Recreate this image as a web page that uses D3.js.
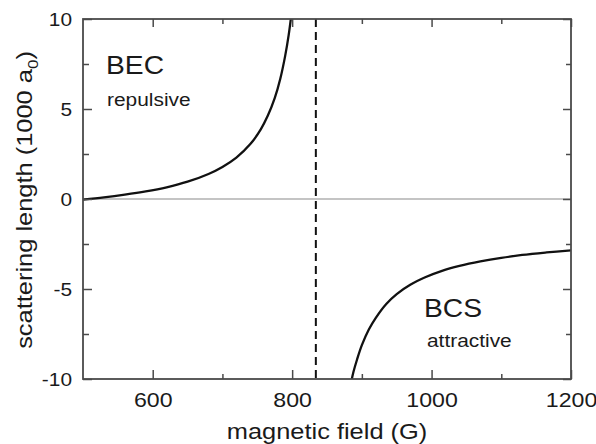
<!DOCTYPE html>
<html>
<head>
<meta charset="utf-8">
<script src="https://cdn.jsdelivr.net/npm/d3@7/dist/d3.min.js"></script>
<style>
  html, body { margin: 0; padding: 0; background: #fff; }
  svg { display: block; }
  text { font-family: "Liberation Sans", Arial, Helvetica, sans-serif; fill: #1a1a1a; }
</style>
</head>
<body>
<svg id="chart" width="596" height="444"></svg>
<script>
// Scattering length across the Feshbach resonance (values in units of 1000 a0)
const resonanceField = 834;

// BEC side (below resonance)
const fieldBelow  = [500, 530, 560, 590, 620, 650, 680, 700, 720, 740, 755, 765, 775, 783, 790, 795, 800];
const lengthBelow = [-0.03, 0.09, 0.24, 0.42, 0.65, 0.96, 1.39, 1.78, 2.3, 3.05, 3.87, 4.62, 5.6, 6.68, 7.95, 9.1, 10.6];

// BCS side (above resonance)
const fieldAbove  = [884, 888, 893, 900, 910, 920, 935, 950, 970, 990, 1015, 1040, 1070, 1100, 1130, 1165, 1200];
const lengthAbove = [-10.3, -9.6, -8.93, -8.12, -7.25, -6.6, -5.83, -5.28, -4.75, -4.36, -3.99, -3.72, -3.47, -3.27, -3.11, -2.97, -2.85];

const xMajorTicks = [600, 800, 1000, 1200];
const xMinorTicks = [700, 900, 1100];
const yMajorTicks = [-10, -5, 0, 5, 10];
const yMinorTicks = [-7.5, -2.5, 2.5, 7.5];

const plot = { left: 83, right: 571, top: 19, bottom: 379 };
const stretch = 1.13;

const svg = d3.select("#chart");
const x = d3.scaleLinear().domain([500, 1200]).range([plot.left, plot.right]);
const y = d3.scaleLinear().domain([-10, 10]).range([plot.bottom, plot.top]);

svg.append("defs").append("clipPath").attr("id", "plotClip")
  .append("rect")
  .attr("x", plot.left).attr("y", plot.top)
  .attr("width", plot.right - plot.left).attr("height", plot.bottom - plot.top);

// zero reference line
svg.append("line")
  .attr("x1", plot.left).attr("x2", plot.right)
  .attr("y1", y(0)).attr("y2", y(0))
  .attr("stroke", "#8a8a8a").attr("stroke-width", 1.2);

// resonance position
svg.append("line")
  .attr("x1", x(resonanceField)).attr("x2", x(resonanceField))
  .attr("y1", plot.top).attr("y2", plot.bottom)
  .attr("stroke", "#111").attr("stroke-width", 2)
  .attr("stroke-dasharray", "8,5");

// curves
const line = d3.line()
  .x(d => x(d[0])).y(d => y(d[1]))
  .curve(d3.curveCatmullRom.alpha(0.5));

const branches = [
  d3.zip(fieldBelow, lengthBelow),
  d3.zip(fieldAbove, lengthAbove)
];
svg.append("g").attr("clip-path", "url(#plotClip)")
  .selectAll("path").data(branches).join("path")
  .attr("d", line)
  .attr("fill", "none")
  .attr("stroke", "#111")
  .attr("stroke-width", 2.3)
  .attr("stroke-linejoin", "round");

// axes with inward ticks on all four sides
const axisColor = "#4a4a4a";
const plain = d => String(d);
function styleAxis(g) {
  g.select(".domain").remove();
  g.selectAll(".tick line").attr("stroke", axisColor).attr("stroke-width", 1.5);
}

const gBottom = svg.append("g").attr("transform", `translate(0,${plot.bottom})`)
  .call(d3.axisBottom(x).tickValues(xMajorTicks).tickSize(-9).tickFormat(plain));
styleAxis(gBottom);
gBottom.selectAll(".tick text")
  .attr("y", 28).attr("dy", 0)
  .attr("transform", `scale(${stretch},1)`)
  .style("font-size", "20.5px").attr("fill", "#1a1a1a");

svg.append("g").attr("transform", `translate(0,${plot.bottom})`)
  .call(d3.axisBottom(x).tickValues(xMinorTicks).tickSize(-5).tickFormat(""))
  .call(styleAxis);

svg.append("g").attr("transform", `translate(0,${plot.top})`)
  .call(d3.axisTop(x).tickValues(xMajorTicks).tickSize(-8).tickFormat(""))
  .call(styleAxis);
svg.append("g").attr("transform", `translate(0,${plot.top})`)
  .call(d3.axisTop(x).tickValues(xMinorTicks).tickSize(-5).tickFormat(""))
  .call(styleAxis);

const gLeft = svg.append("g").attr("transform", `translate(${plot.left},0)`)
  .call(d3.axisLeft(y).tickValues(yMajorTicks).tickSize(-9).tickPadding(11).tickFormat(plain));
styleAxis(gLeft);
gLeft.selectAll(".tick text")
  .attr("x", -11 / stretch).attr("dy", "0.36em")
  .attr("transform", `scale(${stretch},1)`)
  .style("font-size", "18.5px").attr("fill", "#1a1a1a");

svg.append("g").attr("transform", `translate(${plot.left},0)`)
  .call(d3.axisLeft(y).tickValues(yMinorTicks).tickSize(-6).tickFormat(""))
  .call(styleAxis);

svg.append("g").attr("transform", `translate(${plot.right},0)`)
  .call(d3.axisRight(y).tickValues(yMajorTicks).tickSize(-8).tickFormat(""))
  .call(styleAxis);
svg.append("g").attr("transform", `translate(${plot.right},0)`)
  .call(d3.axisRight(y).tickValues(yMinorTicks).tickSize(-5).tickFormat(""))
  .call(styleAxis);

// frame
svg.append("rect")
  .attr("x", plot.left).attr("y", plot.top)
  .attr("width", plot.right - plot.left).attr("height", plot.bottom - plot.top)
  .attr("fill", "none").attr("stroke", axisColor).attr("stroke-width", 1.8);

// axis titles
svg.append("text")
  .attr("transform", `translate(${(plot.left + plot.right) / 2},439) scale(${stretch},1)`)
  .attr("text-anchor", "middle")
  .style("font-size", "22.5px")
  .text("magnetic field (G)");

const yTitle = svg.append("text")
  .attr("transform", `translate(32,${(plot.top + plot.bottom) / 2 + 1}) rotate(-90) scale(${stretch},1)`)
  .attr("text-anchor", "middle")
  .style("font-size", "22.5px");
yTitle.append("tspan").text("scattering length (1000 a");
yTitle.append("tspan").attr("dy", 6).style("font-size", "15px").text("0");
yTitle.append("tspan").attr("dy", -6).text(")");

// regime annotations
function note(px, py, size, str) {
  svg.append("text")
    .attr("transform", `translate(${px},${py}) scale(${stretch},1)`)
    .style("font-size", size + "px")
    .text(str);
}
note(106, 74, 25, "BEC");
note(107, 106, 18.5, "repulsive");
note(424, 317, 25, "BCS");
note(427, 347, 18.5, "attractive");
</script>
</body>
</html>
